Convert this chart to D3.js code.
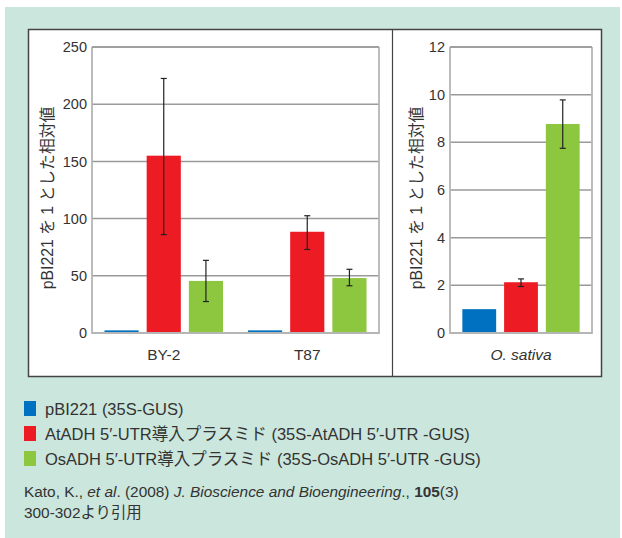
<!DOCTYPE html>
<html>
<head>
<meta charset="utf-8">
<script src="https://cdn.jsdelivr.net/npm/d3@7"></script>
<style>
  body { margin: 0; background: #fff; }
  svg { display: block; font-family: "Liberation Sans", "Noto Sans CJK JP", sans-serif; }
</style>
</head>
<body>
<div id="main"></div>
<script>
// Datos del gráfico
var grupos = ["BY-2", "T87"];
var series = ["pBI221 (35S-GUS)", "AtADH 5′-UTR導入プラスミド (35S-AtADH 5′-UTR -GUS)", "OsADH 5′-UTR導入プラスミド (35S-OsADH 5′-UTR -GUS)"];
var colores = ["#0070c0", "#ed1c24", "#8dc63f"];
var valoresIzq = [[2.3, 155, 45.5], [2.3, 88.5, 48]];
var errorIzq = [[null, [86, 222.5], [27.5, 63.5]], [null, [73, 102.5], [41.3, 55.7]]];
var ticksIzq = [0, 50, 100, 150, 200, 250];
var grupoDer = ["O. sativa"];
var valoresDer = [[1, 2.13, 8.77]];
var errorDer = [[null, [1.95, 2.27], [7.75, 9.78]]];
var ticksDer = [0, 2, 4, 6, 8, 10, 12];
var tituloY = "pBI221 を 1 とした相対値";
var cita1 = ["Kato, K., ", "et al", ". (2008) ", "J. Bioscience and Bioengineering", "., ", "105", "(3)"];
var cita2 = "300-302より引用";

var svg = d3.select("#main").append("svg").attr("width", 622).attr("height", 538);

// Fondo verde
svg.append("rect").attr("x", 5).attr("y", 7).attr("width", 615).attr("height", 531).attr("fill", "#cbe6dc");

// Panel blanco
svg.append("rect").attr("x", 28.5).attr("y", 29.5).attr("width", 573).attr("height", 347)
  .attr("fill", "#fff").attr("stroke", "#444").attr("stroke-width", 1.5);
svg.append("line").attr("x1", 392.5).attr("x2", 392.5).attr("y1", 29.5).attr("y2", 376.5)
  .attr("stroke", "#444").attr("stroke-width", 1.2);

var plotTop = 47, plotBottom = 333;

function dibujarPanel(x0, x1, cats, valores, errores, ticks, max, italica) {
  var y = d3.scaleLinear().domain([0, max]).range([plotBottom, plotTop]);
  var x = d3.scaleBand().domain(cats).range([x0, x1]).paddingInner(0.174).paddingOuter(0.087);
  var g = svg.append("g");

  // Líneas de la cuadrícula
  g.selectAll(".grid").data(ticks.filter(function(t) { return t > 0; })).enter().append("line")
    .attr("x1", x0).attr("x2", x1).attr("y1", function(d) { return y(d); }).attr("y2", function(d) { return y(d); })
    .attr("stroke", "#9a9a9a").attr("stroke-width", 1.5);

  // Etiquetas del eje Y
  var eje = d3.axisLeft(y).tickValues(ticks).tickSize(0).tickPadding(5);
  var ga = g.append("g").attr("transform", "translate(" + x0 + ",0)").call(eje);
  ga.select(".domain").remove();
  ga.selectAll("text").attr("font-size", 14.5).attr("fill", "#333").attr("font-family", "Liberation Sans, sans-serif");

  // Barras
  cats.forEach(function(c, i) {
    var xs = d3.scaleBand().domain(d3.range(3)).range([x(c), x(c) + x.bandwidth()]).paddingInner(0.19);
    valores[i].forEach(function(v, j) {
      g.append("rect").attr("x", xs(j)).attr("y", y(v)).attr("width", xs.bandwidth()).attr("height", plotBottom - y(v))
        .attr("fill", colores[j]);
      var e = errores[i][j];
      if (e) {
        var cx = xs(j) + xs.bandwidth() / 2;
        g.append("line").attr("x1", cx).attr("x2", cx).attr("y1", y(e[0])).attr("y2", y(e[1])).attr("stroke", "#222").attr("stroke-width", 1.2);
        [e[0], e[1]].forEach(function(b) {
          g.append("line").attr("x1", cx - 3).attr("x2", cx + 3).attr("y1", y(b)).attr("y2", y(b)).attr("stroke", "#222").attr("stroke-width", 1.2);
        });
      }
    });
    g.append("text").attr("x", x(c) + x.bandwidth() / 2).attr("y", 360).attr("text-anchor", "middle")
      .attr("font-size", 15.5).attr("fill", "#333").attr("font-style", italica ? "italic" : "normal").text(c);
  });

  // Marco del área de trazado
  g.append("path").attr("d", "M" + x0 + "," + plotTop + "V" + plotBottom + "H" + x1 + "V" + plotTop)
    .attr("fill", "none").attr("stroke", "#b5b5b5").attr("stroke-width", 1.8);
  g.append("line").attr("x1", x0).attr("x2", x1).attr("y1", plotTop).attr("y2", plotTop).attr("stroke", "#9a9a9a").attr("stroke-width", 1.5);
  return y;
}

dibujarPanel(92, 379, grupos, valoresIzq, errorIzq, ticksIzq, 250, false);
dibujarPanel(450, 592, grupoDer, valoresDer, errorDer, ticksDer, 12, true);

// Títulos del eje Y
[47, 416].forEach(function(cx) {
  svg.append("text").attr("transform", "translate(" + cx + ",198) rotate(-90)")
    .attr("text-anchor", "middle").attr("dominant-baseline", "central")
    .attr("font-size", 15.8).attr("fill", "#333").text(tituloY);
});

// Leyenda
series.forEach(function(s, i) {
  var yy = 401 + i * 25;
  svg.append("rect").attr("x", 24).attr("y", yy).attr("width", 12).attr("height", 15).attr("fill", colores[i]);
  svg.append("text").attr("x", 45).attr("y", yy + 14).attr("font-size", 16.5).attr("fill", "#333").text(s);
});

// Cita
var t1 = svg.append("text").attr("x", 24).attr("y", 497).attr("font-size", 15.4).attr("fill", "#333");
cita1.forEach(function(p, i) {
  t1.append("tspan").text(p)
    .attr("font-style", (i === 1 || i === 3) ? "italic" : "normal")
    .attr("font-weight", i === 5 ? "bold" : "normal");
});
svg.append("text").attr("x", 24).attr("y", 518).attr("font-size", 15.4).attr("fill", "#333").text(cita2);
</script>
</body>
</html>
